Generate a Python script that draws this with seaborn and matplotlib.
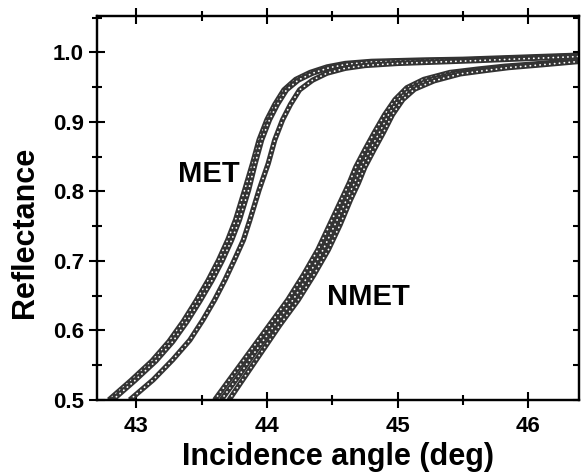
import pandas as pd
import seaborn as sns
import matplotlib.pyplot as plt
from matplotlib.ticker import MultipleLocator, FormatStrFormatter

# incidence angle (deg) vs reflectance, one list pair per scan
met_1_x = [42.79, 42.96, 43.12, 43.25, 43.36, 43.46, 43.55, 43.63, 43.70, 43.76, 43.83, 43.89,
           43.94, 44.00, 44.06, 44.13, 44.22, 44.33, 44.46, 44.60, 44.80, 45.00, 45.20, 45.50,
           45.80, 46.10, 46.40]
met_1_y = [0.500, 0.528, 0.556, 0.584, 0.613, 0.643, 0.672, 0.701, 0.730, 0.759, 0.802, 0.840,
           0.874, 0.903, 0.925, 0.946, 0.961, 0.971, 0.979, 0.984, 0.987, 0.988, 0.989, 0.990,
           0.992, 0.994, 0.996]

met_2_x = [42.82, 42.99, 43.15, 43.28, 43.39, 43.49, 43.58, 43.66, 43.73, 43.79, 43.86, 43.91,
           43.96, 44.02, 44.08, 44.15, 44.24, 44.35, 44.48, 44.62, 44.80, 45.00, 45.20, 45.50,
           45.80, 46.10, 46.40]
met_2_y = [0.500, 0.528, 0.556, 0.584, 0.613, 0.643, 0.672, 0.701, 0.730, 0.759, 0.802, 0.840,
           0.874, 0.903, 0.925, 0.946, 0.960, 0.970, 0.978, 0.983, 0.986, 0.987, 0.988, 0.989,
           0.991, 0.993, 0.995]

met_3_x = [42.95, 43.13, 43.28, 43.41, 43.51, 43.60, 43.68, 43.75, 43.82, 43.87, 43.94, 44.01,
           44.06, 44.12, 44.18, 44.25, 44.35, 44.46, 44.60, 44.75, 45.00, 45.30, 45.60, 46.00,
           46.40]
met_3_y = [0.500, 0.529, 0.558, 0.586, 0.615, 0.644, 0.673, 0.701, 0.730, 0.759, 0.802, 0.840,
           0.874, 0.903, 0.925, 0.946, 0.960, 0.970, 0.977, 0.981, 0.984, 0.986, 0.988, 0.991,
           0.994]

nmet_1_x = [43.60, 43.74, 43.88, 44.02, 44.16, 44.28, 44.39, 44.48, 44.57, 44.63, 44.68, 44.75,
            44.82, 44.90, 44.98, 45.07, 45.20, 45.40, 45.62, 45.82, 46.10, 46.40]
nmet_1_y = [0.500, 0.536, 0.572, 0.608, 0.644, 0.680, 0.716, 0.752, 0.788, 0.812, 0.835, 0.860,
            0.884, 0.910, 0.932, 0.949, 0.961, 0.971, 0.976, 0.980, 0.984, 0.989]

nmet_2_x = [43.65, 43.79, 43.92, 44.06, 44.20, 44.32, 44.43, 44.52, 44.61, 44.67, 44.72, 44.79,
            44.86, 44.93, 45.01, 45.10, 45.24, 45.45, 45.65, 45.83, 46.10, 46.40]
nmet_2_y = [0.500, 0.536, 0.572, 0.608, 0.644, 0.680, 0.716, 0.752, 0.788, 0.812, 0.835, 0.860,
            0.884, 0.910, 0.932, 0.948, 0.960, 0.970, 0.975, 0.979, 0.983, 0.988]

nmet_3_x = [43.71, 43.84, 43.97, 44.10, 44.24, 44.36, 44.47, 44.56, 44.64, 44.70, 44.75, 44.82,
            44.89, 44.96, 45.04, 45.13, 45.28, 45.48, 45.68, 45.85, 46.10, 46.40]
nmet_3_y = [0.500, 0.536, 0.572, 0.608, 0.644, 0.680, 0.716, 0.752, 0.788, 0.812, 0.835, 0.860,
            0.884, 0.910, 0.932, 0.947, 0.959, 0.969, 0.974, 0.978, 0.982, 0.987]

curves = [('MET 1', met_1_x, met_1_y), ('MET 2', met_2_x, met_2_y), ('MET 3', met_3_x, met_3_y),
          ('NMET 1', nmet_1_x, nmet_1_y), ('NMET 2', nmet_2_x, nmet_2_y), ('NMET 3', nmet_3_x, nmet_3_y)]
df = pd.concat([pd.DataFrame({'angle': x, 'refl': y, 'run': name}) for name, x, y in curves])

sns.set_theme(style="ticks")
plt.rcParams['font.family'] = ['Liberation Sans', 'DejaVu Sans']
plt.rcParams['font.weight'] = 'bold'

fig = plt.figure(figsize=(5.81, 4.75), dpi=100)
ax = fig.add_axes([0.167, 0.158, 0.830, 0.808])

# dense open-circle markers look like a dark band with white dots inside
for name, sub in df.groupby('run', sort=False):
    sns.lineplot(data=sub, x='angle', y='refl', ax=ax, sort=False, estimator=None,
                 color='#333333', lw=3.8, solid_capstyle='butt', legend=False)
    sns.lineplot(data=sub, x='angle', y='refl', ax=ax, sort=False, estimator=None,
                 color='white', lw=1.3, linestyle=(0, (0.1, 2.6)), dash_capstyle='round',
                 legend=False)

ax.set_xlim(42.70, 46.39)
ax.set_ylim(0.5, 1.052)
ax.xaxis.set_major_locator(MultipleLocator(1))
ax.xaxis.set_minor_locator(MultipleLocator(0.5))
ax.yaxis.set_major_locator(MultipleLocator(0.1))
ax.yaxis.set_minor_locator(MultipleLocator(0.05))
ax.yaxis.set_major_formatter(FormatStrFormatter('%.1f'))

ax.tick_params(which='both', direction='inout', width=1.5, color='black',
               top=True, right=False, labelsize=16, labelcolor='black')
ax.tick_params(which='major', length=11)
ax.tick_params(which='minor', length=7)
ax.tick_params(axis='y', pad=4)
ax.tick_params(axis='x', pad=6)

tw = ax.twinx()
tw.set_ylim(ax.get_ylim())
tw.yaxis.set_major_locator(MultipleLocator(0.05))
tw.tick_params(direction='in', length=4.5, width=1.5, color='black', labelright=False)

for a in (ax, tw):
    for sp in a.spines.values():
        sp.set_linewidth(1.6)
        sp.set_color('black')

ax.set_xlabel('Incidence angle (deg)', fontsize=22, fontweight='bold', color='black')
ax.set_ylabel('Reflectance', fontsize=22, fontweight='bold', color='black')
ax.xaxis.set_label_coords(0.5, -0.11)
ax.yaxis.set_label_coords(-0.118, 0.4375)

ax.text(43.32, 0.814, 'MET', fontsize=21, fontweight='bold', color='black', va='baseline')
ax.text(44.46, 0.637, 'NMET', fontsize=21, fontweight='bold', color='black', va='baseline')

fig.savefig('out.png', dpi=100)
